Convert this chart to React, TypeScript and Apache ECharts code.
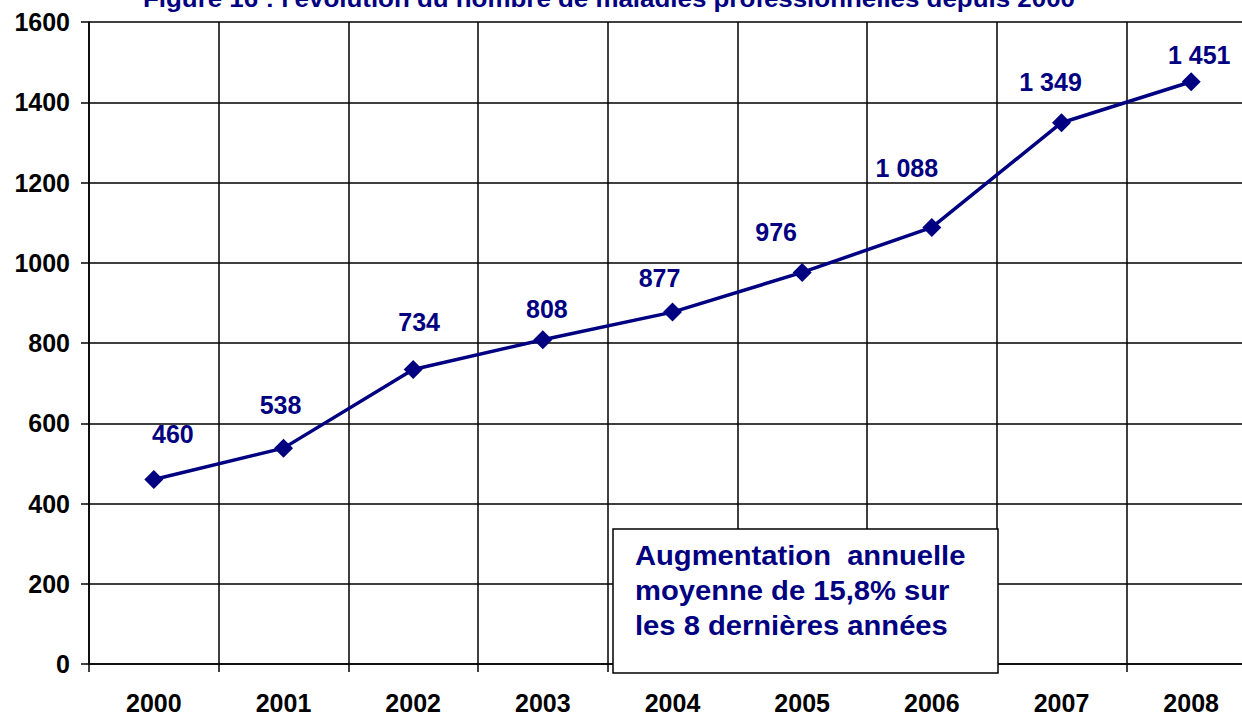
import React, { useEffect, useRef } from "react";
import * as echarts from "echarts";

const years = ["2000", "2001", "2002", "2003", "2004", "2005", "2006", "2007", "2008"];
const cases = [460, 538, 734, 808, 877, 976, 1088, 1349, 1451];
const yTicks = { min: 0, max: 1600, interval: 200 };
const titleText = "Figure 16 : l'évolution du nombre de maladies professionnelles depuis 2000";
const noteLines = ["Augmentation  annuelle", "moyenne de 15,8% sur", "les 8 dernières années"];
// label placement nudges (px) relative to each marker, as in the original
const labelOffsets: [number, number][] = [
  [19, -45], [-3, -43], [6, -47], [4, -31], [-13, -34], [-26, -40], [-25, -59], [-11, -41], [8, -27],
];

const NAVY = "#000080";
const FONT = "'Liberation Sans', Arial, Helvetica, sans-serif";
const CANVAS_W = 1270;

const fmt = (v: number) => String(v).replace(/\B(?=(\d{3})+(?!\d))/g, " ");

export default function App() {
  const ref = useRef<HTMLDivElement>(null);
  useEffect(() => {
    if (!ref.current) return;
    const chart = echarts.init(ref.current, undefined, { renderer: "svg" });
    const lineStyle = { color: "#000", width: 1.5 };
    chart.setOption({
      animation: false,
      backgroundColor: "#fff",
      textStyle: { fontFamily: FONT },
      grid: { left: 89, top: 22, right: CANVAS_W - 89 - 1167, bottom: 48, containLabel: false },
      xAxis: {
        type: "category",
        data: years,
        boundaryGap: true,
        axisLine: { show: true, lineStyle },
        axisTick: { show: true, length: 8, inside: false, lineStyle },
        splitLine: { show: true, lineStyle },
        axisLabel: { color: "#000", fontSize: 25, fontWeight: "bold", fontFamily: FONT, margin: 26 },
      },
      yAxis: {
        type: "value",
        min: yTicks.min,
        max: yTicks.max,
        interval: yTicks.interval,
        axisLine: { show: true, lineStyle },
        axisTick: { show: true, length: 8, inside: false, lineStyle },
        splitLine: { show: true, lineStyle },
        axisLabel: {
          color: "#000",
          fontSize: 25,
          fontWeight: "bold",
          fontFamily: FONT,
          margin: 19,
          formatter: (v: number) => String(v),
        },
      },
      series: [
        {
          type: "line",
          data: cases.map((v, i) => ({
            value: v,
            label: { offset: labelOffsets[i] },
          })),
          symbol: "diamond",
          symbolSize: 19,
          lineStyle: { color: NAVY, width: 3.5 },
          itemStyle: { color: NAVY },
          label: {
            show: true,
            position: "inside",
            color: NAVY,
            fontSize: 25,
            fontWeight: "bold",
            fontFamily: FONT,
            formatter: (p: any) => fmt(p.value),
          },
          z: 5,
        },
      ],
      graphic: [
        {
          type: "text",
          x: 143,
          y: -1.3,
          scaleX: 1.08,
          style: {
            text: titleText,
            fill: NAVY,
            font: `bold 24px ${FONT}`,
            verticalAlign: "middle",
            align: "left",
          },
          z: 100,
        },
        {
          type: "rect",
          shape: { x: 613, y: 529, width: 385, height: 144 },
          style: { fill: "#fff", stroke: "#000", lineWidth: 1.5 },
          z: 100,
        },
        {
          type: "text",
          x: 635,
          y: 538,
          scaleX: 1.08,
          style: {
            text: noteLines.join("\n"),
            fill: NAVY,
            font: `bold 27px ${FONT}`,
            lineHeight: 35.3,
            verticalAlign: "top",
            align: "left",
          },
          z: 101,
        },
      ],
    });
    return () => chart.dispose();
  }, []);
  return (
    <div style={{ position: "absolute", left: 0, top: 0, width: 1242, height: 715, overflow: "hidden" }}>
      <div ref={ref} style={{ width: CANVAS_W, height: 715 }} />
    </div>
  );
}
